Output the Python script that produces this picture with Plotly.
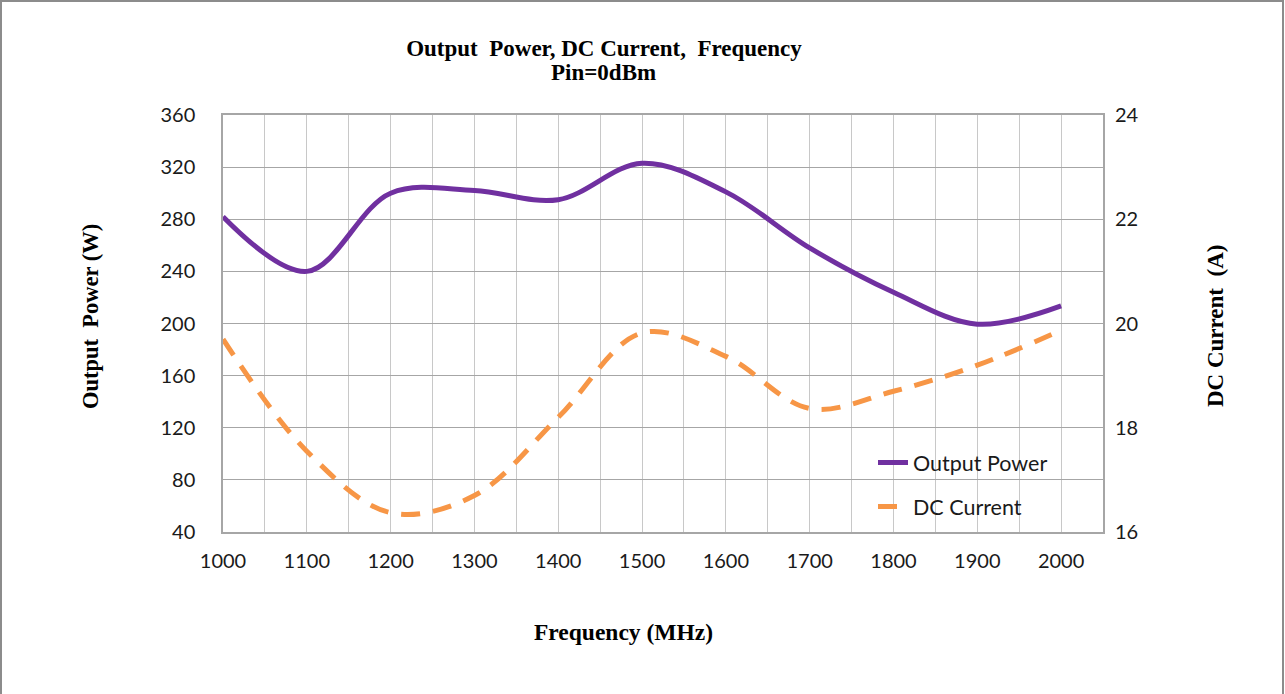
import plotly.graph_objects as go

freq = [1000, 1100, 1200, 1300, 1400, 1500, 1600, 1700, 1800, 1900, 2000]
output_power = [282, 240, 300, 302, 295, 323, 301, 258, 224, 199.5, 213.5]
dc_current = [19.7, 17.55, 16.37, 16.7, 18.2, 19.82, 19.37, 18.37, 18.7, 19.2, 19.87]

x_ticks = [1000, 1100, 1200, 1300, 1400, 1500, 1600, 1700, 1800, 1900, 2000]
y1_ticks = [40, 80, 120, 160, 200, 240, 280, 320, 360]
y2_ticks = [16, 18, 20, 22, 24]

W, H = 1285, 694
L, R, T, B = 223, 182, 115, 162
pw, ph = W - L - R, H - T - B

def px(xp):
    return (xp - L) / pw

def py(yp):
    return (H - B - yp) / ph

tick_font = dict(family="Lato, Calibri, sans-serif", size=20, color="#1a1a1a")
serif_bold = "Liberation Serif, Times New Roman, serif"

fig = go.Figure()
fig.add_trace(go.Scatter(
    x=freq, y=output_power, name="Output Power", mode="lines",
    line=dict(color="#7030A0", width=5, shape="spline", smoothing=1.0),
    yaxis="y", legend="legend",
))
fig.add_trace(go.Scatter(
    x=freq, y=dc_current, name="DC Current", mode="lines",
    line=dict(color="#F79646", width=5, shape="spline", smoothing=1.0, dash="19px,13px"),
    yaxis="y2", legend="legend2",
))

grid_c = "#C8C8C8"
border_c = "#A6A6A6"

fig.update_layout(
    width=W, height=H,
    margin=dict(l=L, r=R, t=T, b=B),
    paper_bgcolor="white", plot_bgcolor="white",
    title=dict(
        text="<b>Output  Power, DC Current,  Frequency</b>",
        x=604 / W, xanchor="center", xref="container",
        y=1 - 48 / H, yanchor="middle", yref="container",
        font=dict(family=serif_bold, size=23, color="black"),
    ),
    xaxis=dict(
        range=[1000, 2050], tickvals=x_ticks, ticktext=[str(v) for v in x_ticks],
        showgrid=True, gridcolor=grid_c, gridwidth=1,
        minor=dict(dtick=50, tick0=1000, showgrid=True, gridcolor=grid_c, gridwidth=1),
        showline=True, linecolor=border_c, linewidth=1.5, mirror=True,
        ticks="", tickfont=tick_font, ticklabelstandoff=10, zeroline=False,
    ),
    yaxis=dict(
        range=[40, 360], tickvals=y1_ticks,
        showgrid=True, gridcolor=border_c, gridwidth=1,
        showline=True, linecolor=border_c, linewidth=1.5, mirror=True,
        ticks="", tickfont=tick_font, ticklabelstandoff=22, zeroline=False,
    ),
    yaxis2=dict(
        range=[16, 24], tickvals=y2_ticks, overlaying="y", side="right",
        showgrid=False, showline=False, ticks="", tickfont=tick_font,
        ticklabelstandoff=11, zeroline=False,
    ),
    legend=dict(
        x=px(873), y=py(442), xanchor="left", yanchor="top",
        bgcolor="rgba(255,255,255,0)", borderwidth=0,
        font=dict(family="Lato, Calibri, sans-serif", size=21.5, color="#1a1a1a"),
        itemwidth=30,
    ),
    legend2=dict(
        x=px(873), y=py(486), xanchor="left", yanchor="top",
        bgcolor="rgba(255,255,255,0)", borderwidth=0,
        font=dict(family="Lato, Calibri, sans-serif", size=21.5, color="#1a1a1a"),
        itemwidth=30,
    ),
    showlegend=True,
    shapes=[
        dict(type="rect", xref="paper", yref="paper",
             x0=px(793), x1=px(1102), y0=py(531), y1=py(440),
             fillcolor="white", line=dict(width=0), layer="between"),
        dict(type="rect", xref="paper", yref="paper",
             x0=px(1), x1=px(1283), y0=py(700), y1=py(1),
             fillcolor="rgba(0,0,0,0)", line=dict(color="#8C8C8C", width=2), layer="above"),
    ],
    annotations=[
        dict(text="<b>Pin=0dBm</b>", xref="paper", yref="paper",
             x=px(603), y=py(73), xanchor="center", yanchor="middle", showarrow=False,
             font=dict(family=serif_bold, size=23, color="black")),
        dict(text="<b>Frequency (MHz)</b>", xref="paper", yref="paper",
             x=px(623), y=py(632), xanchor="center", yanchor="middle", showarrow=False,
             font=dict(family=serif_bold, size=23.5, color="black")),
        dict(text="<b>Output  Power (W)</b>", xref="paper", yref="paper",
             x=px(90), y=py(317), xanchor="center", yanchor="middle", showarrow=False,
             textangle=-90, font=dict(family=serif_bold, size=22.5, color="black")),
        dict(text="<b>DC Current  (A)</b>", xref="paper", yref="paper",
             x=px(1215), y=py(326), xanchor="center", yanchor="middle", showarrow=False,
             textangle=-90, font=dict(family=serif_bold, size=23, color="black")),
    ],
)

fig.write_html("out.html", post_script="document.body.style.margin='0';",
               config={"displayModeBar": False})
